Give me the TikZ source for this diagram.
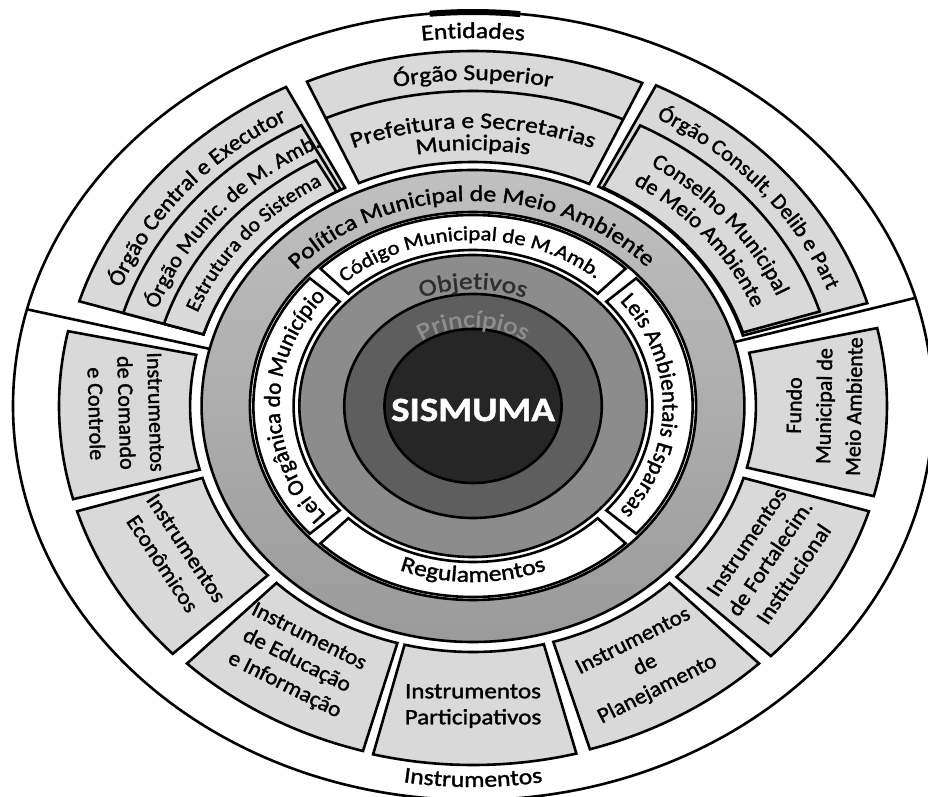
\documentclass[tikz,border=0pt]{standalone}
\usepackage{fontspec}
\setmainfont[FakeStretch=1.14, FakeBold=1.5]{Carlito}
\newfontfamily\tiltfont[FakeStretch=1.05, FakeBold=1.5]{Carlito}
\newfontfamily\sidefont[FakeStretch=1.0, FakeBold=1.5]{Carlito}
\usetikzlibrary{decorations.text}

\definecolor{boxgray}{HTML}{D9D9D9}
\definecolor{ringtop}{HTML}{C0C0C0}
\definecolor{ringbot}{HTML}{9A9A9A}
\definecolor{objgray}{HTML}{8C8C8C}
\definecolor{pringray}{HTML}{5E5E5E}
\definecolor{coregray}{HTML}{262626}
\definecolor{objtext}{HTML}{2E2E2E}
\definecolor{printext}{HTML}{8E8E8E}

\newcommand{\arcfont}{\fontsize{22.5}{27}\selectfont}
\newcommand{\ringfont}{\fontsize{24}{28}\selectfont}
\newcommand{\smallarcfont}{\fontsize{20}{24}\selectfont}
\newcommand{\sidearcfont}{\sidefont\fontsize{23}{27}\selectfont}
\newcommand{\tiltarcfont}[1]{\tiltfont\fontsize{#1}{26}\selectfont}
\newcommand{\flatboxfont}{\fontsize{22}{26}\selectfont}
\newcommand{\tiltboxfont}[1]{\tiltfont\fontsize{22}{#1}\selectfont}
\newcommand{\sideboxfont}{\sidefont\fontsize{22}{30}\selectfont}
\newcommand{\corefont}{\bfseries\fontsize{34}{40}\selectfont}

\newcommand{\ringsector}[4]{(#1:#4) arc[start angle=#1, end angle=#2, radius=#4] -- (#2:#3) arc[start angle=#2, end angle=#1, radius=#3] -- cycle}
\newcommand{\arclabel}[4]{\path[decorate, decoration={text along path, text align=center, text={#4}}] (#1:#3) arc[start angle=#1, end angle=#2, radius=#3];}

\begin{document}
\begin{tikzpicture}[x=1pt, y=1pt, line width=2.6pt,
  boxfill/.style={draw, fill=boxgray},
  whitebox/.style={draw, fill=white},
  flattext/.style={align=center, font=\flatboxfont},
  tilttext/.style={align=center, font=\tiltboxfont{#1}},
  sidetext/.style={align=center, font=\sideboxfont}]
\useasboundingbox (0,0) rectangle (928,796);
\clip (0,0) rectangle (928,796);
\fill[white] (0,0) rectangle (928,796);
\begin{scope}[shift={(473,390)}]
\begin{scope}[xscale=1.15]

\draw (0,0) ellipse[x radius=400, y radius=394];
\draw[line width=6pt] (95.4:400 and 394) arc[start angle=95.4, end angle=84.1, x radius=400, y radius=394];

\shadedraw[top color=ringtop, bottom color=ringbot] (0,0) circle[radius=236];
\draw[fill=white] (0,0) circle[radius=194];
\draw[whitebox] \ringsector{46}{134}{156}{191};
\draw[whitebox] \ringsector{138}{222}{156}{191};
\draw[whitebox] \ringsector{226}{314}{156}{191};
\draw[whitebox] \ringsector{-42}{42}{156}{191};
\draw[fill=objgray] (0,0) circle[radius=151];
\draw[fill=pringray] (0,0) circle[radius=112];
\draw[fill=coregray] (0,0) circle[radius=77];

% entidades
\draw[boxfill] \ringsector{117}{163}{245}{358};
\draw[boxfill] \ringsector{118}{163}{245}{318};
\draw[boxfill] \ringsector{119}{163}{245}{281};
\draw[boxfill] \ringsector{65.5}{114}{244}{355};
\draw (65.5:315) arc[start angle=65.5, end angle=114, radius=315];
\draw[boxfill] \ringsector{16.7}{63.6}{245}{358};
\draw[boxfill] \ringsector{17.4}{62.6}{246}{316};

% instrumentos
\draw[boxfill] \ringsector{168}{195}{246}{360};
\draw[boxfill] \ringsector{197}{223.5}{246}{360};
\draw[boxfill] \ringsector{226}{254.5}{246}{358};
\draw[boxfill] \ringsector{256}{284.5}{246}{359};
\draw[boxfill] \ringsector{286.5}{314}{246}{358};
\draw[boxfill] \ringsector{316}{343}{246}{360};
\draw[boxfill] \ringsector{-14.5}{12.5}{246}{360};

\coordinate (leftcut) at (166:399);
\coordinate (rightcut) at (15.7:399);
\draw (166:236) -- (leftcut);
\draw (15.7:236) -- (rightcut);

\arclabel{125}{55}{368}{|\arcfont|Entidades}
\arclabel{240}{300}{381}{|\arcfont|Instrumentos}
\arclabel{112}{68}{326}{|\arcfont|Órgão Superior}
\arclabel{115}{65}{278}{|\arcfont|Prefeitura e Secretarias}
\arclabel{110}{70}{256}{|\arcfont|Municipais}
\arclabel{165}{114}{328}{|\tiltarcfont{22.5}|Órgão Central e Executor}
\arclabel{165}{113}{291}{|\tiltarcfont{21.5}|Órgão Munic. de M. Amb.}
\arclabel{165}{115}{257}{|\tiltarcfont{20.5}|Estrutura do Sistema}
\arclabel{66}{15}{329}{|\tiltarcfont{21.5}|Órgão Consult, Delib e Part}
\arclabel{65}{14}{286}{|\tiltarcfont{22}|Conselho Municipal}
\arclabel{65}{14}{262}{|\tiltarcfont{22}|de Meio Ambiente}
\arclabel{170}{11}{205}{|\arcfont|Política Municipal de Meio Ambiente}
\arclabel{136}{46}{166}{|\smallarcfont|Código Municipal de M.Amb.}
\arclabel{240}{120}{168}{|\sidearcfont|Lei Orgânica do Município}
\arclabel{60}{-60}{165}{|\sidearcfont|Leis Ambientais Esparsas}
\arclabel{225}{315}{176}{|\arcfont|Regulamentos}
\arclabel{130}{50}{117}{|\ringfont\color{objtext}|Objetivos}
\arclabel{135}{45}{79}{|\ringfont\color{printext}|Princípios}

\node[sidetext, rotate=-88.3] (comando) at (181.3:302) {Instrumentos\\de Comando\\e Controle};
\node[tilttext=28.5, rotate=-56.4] (economicos) at (210:300) {Instrumentos\\Econômicos};
\node[tilttext=27, rotate=-26.7] (educacao) at (239:298) {Instrumentos\\de Educação\\e Informação};
\node[flattext] (participativos) at (270:300) {Instrumentos\\Participativos};
\node[tilttext=27, rotate=26.7] (planejamento) at (300:300) {Instrumentos\\de\\Planejamento};
\node[tilttext=28.5, rotate=55.9] (fortalecim) at (329.5:300) {Instrumentos\\de Fortalecim.\\Institucional};
\node[sidetext, rotate=88.9] (fundo) at (0:305) {Fundo\\Municipal de\\Meio Ambiente};
\node[font=\corefont, text=white] (sismuma) at (0,-4) {SISMUMA};

\end{scope}
\end{scope}
\end{tikzpicture}
\end{document}
